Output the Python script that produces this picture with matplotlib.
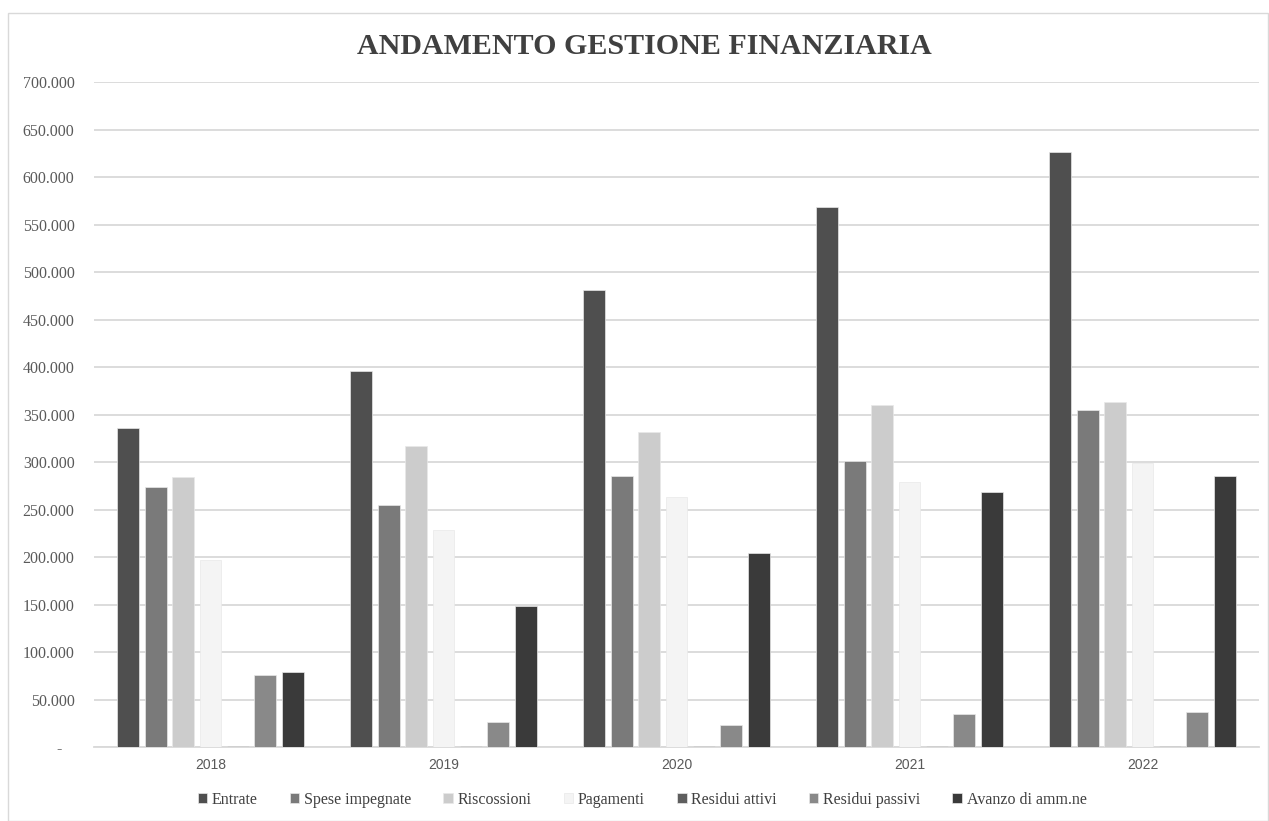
import matplotlib
matplotlib.use("Agg")
import matplotlib.pyplot as plt
import numpy as np
from matplotlib.patches import Rectangle
from matplotlib.ticker import FuncFormatter

years = ["2018", "2019", "2020", "2021", "2022"]
series = ["Entrate", "Spese impegnate", "Riscossioni", "Pagamenti",
          "Residui attivi", "Residui passivi", "Avanzo di amm.ne"]
entrate = [336000, 396500, 481500, 569000, 626300]
spese_impegnate = [273700, 255000, 285600, 301700, 355000]
riscossioni = [284800, 317000, 331600, 360600, 363800]
pagamenti = [197000, 228700, 263200, 279600, 299000]
residui_attivi = [1200, 1200, 1500, 1700, 1700]
residui_passivi = [75800, 26600, 23500, 35000, 36800]
avanzo = [79000, 149000, 204900, 269000, 285200]
colors = ["#4f4f4f", "#7a7a7a", "#cccccc", "#f4f4f4", "#5e5e5e", "#898989", "#3a3a3a"]

data = [entrate, spese_impegnate, riscossioni, pagamenti, residui_attivi, residui_passivi, avanzo]

fig = plt.figure(figsize=(12.69, 8.21), dpi=100)
fig.patches.append(Rectangle((8/1269, 0.0), (1268-8)/1269, (821-13)/821,
                             transform=fig.transFigure, fill=False,
                             edgecolor="#d9d9d9", linewidth=1.0))
ax = fig.add_axes([94/1269, (821-747.3)/821, (1259-94)/1269, 665/821])

x = np.arange(len(years))
step = 0.1178
width = 0.0944
for i, (name, vals, c) in enumerate(zip(series, data, colors)):
    ax.bar(x + (i - 3) * step, vals, width=width, color=c, label=name,
           edgecolor="#e8e8e8", linewidth=0.5, zorder=3)

ax.set_xlim(-0.5, len(years) - 0.5)
ax.set_ylim(0, 700000)
ax.set_yticks(np.arange(0, 700001, 50000))

def fmt(v, pos):
    if v == 0:
        return "-   "
    return f"{int(v):,}".replace(",", ".")

ax.yaxis.set_major_formatter(FuncFormatter(fmt))
ax.grid(axis="y", color="#d9d9d9", linewidth=1.3, zorder=0)
ax.set_axisbelow(True)
for s in ["top", "right", "left"]:
    ax.spines[s].set_visible(False)
ax.spines["bottom"].set_color("#d9d9d9")
ax.spines["bottom"].set_linewidth(1.3)
ax.tick_params(axis="y", length=0, pad=14, labelsize=11.5, labelcolor="#595959")
ax.tick_params(axis="x", length=0, pad=8, labelsize=10, labelcolor="#595959")
ax.set_xticks(x)
ax.set_xticklabels(years, family=["Liberation Sans", "DejaVu Sans"])
for lab in ax.get_yticklabels():
    lab.set_family(["Liberation Serif", "DejaVu Serif"])

fig.text(0.508, 1 - 46/821, "ANDAMENTO GESTIONE FINANZIARIA", ha="center", va="center",
         fontsize=21.6, fontweight="bold", color="#404040",
         family=["Liberation Serif", "DejaVu Serif"])

leg = fig.legend(loc="center", bbox_to_anchor=(0.506, 1 - 800/821), ncol=7,
                 frameon=False, handlelength=0.6, handleheight=0.6,
                 handletextpad=0.3, columnspacing=2.0,
                 prop={"family": ["Liberation Serif", "DejaVu Serif"], "size": 11.5})
for t in leg.get_texts():
    t.set_color("#404040")

fig.savefig("out.png", dpi=100)
